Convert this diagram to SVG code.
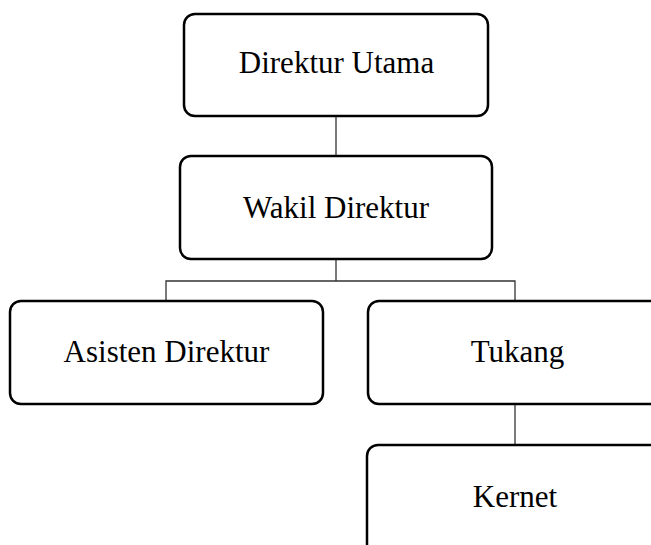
<svg xmlns="http://www.w3.org/2000/svg" width="651" height="545" viewBox="0 0 651 545">
<style>
.box{fill:#fff;stroke:#000;stroke-width:2.5}
.lbl{font-family:"Liberation Serif","Times New Roman",serif;font-size:31px;fill:#000;text-anchor:middle}
.con{fill:none;stroke:#333;stroke-width:1.3}
</style>
<rect width="651" height="545" fill="#fff"/>
<g id="connectors">
<line class="con" x1="336" y1="116" x2="336" y2="156"/>
<path class="con" d="M336 259V281M166 301V281H515V301"/>
<line class="con" x1="515" y1="404" x2="515" y2="445"/>
</g>
<g id="direktur-utama">
<rect class="box" x="184" y="14" width="304" height="102" rx="11"/>
<text class="lbl" x="336.5" y="73">Direktur Utama</text>
</g>
<g id="wakil-direktur">
<rect class="box" x="180" y="156" width="312" height="103" rx="11"/>
<text class="lbl" x="336" y="218">Wakil Direktur</text>
</g>
<g id="asisten-direktur">
<rect class="box" x="10" y="301" width="313" height="103" rx="11"/>
<text class="lbl" x="166.5" y="362">Asisten Direktur</text>
</g>
<g id="tukang">
<rect class="box" x="368" y="301" width="294" height="103" rx="11"/>
<text class="lbl" x="517.5" y="362">Tukang</text>
</g>
<g id="kernet">
<rect class="box" x="367" y="445" width="295" height="110" rx="11"/>
<text class="lbl" x="515" y="507">Kernet</text>
</g>
</svg>
